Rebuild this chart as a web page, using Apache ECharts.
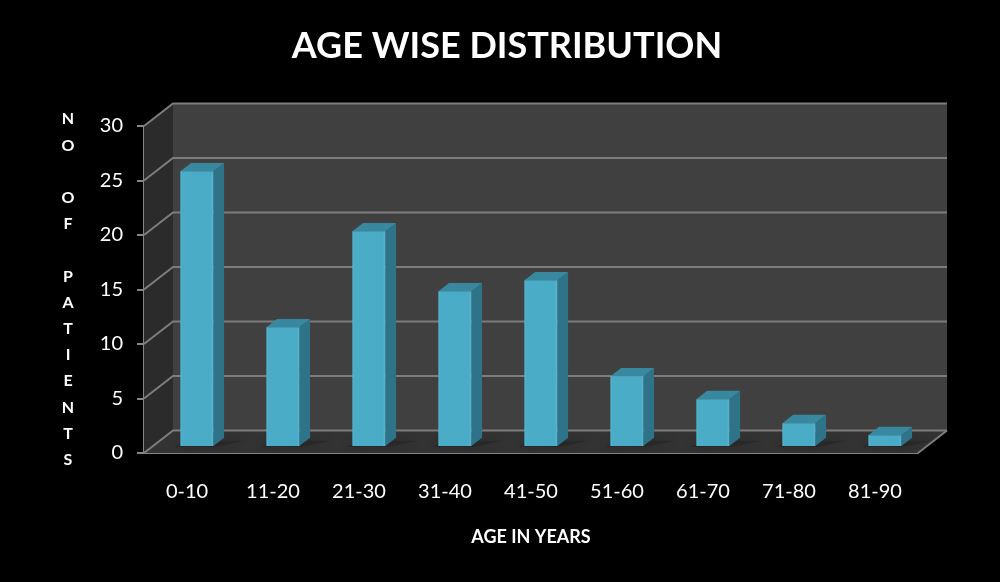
<!DOCTYPE html>
<html>
<head>
<meta charset="utf-8">
<style>html,body{margin:0;padding:0;background:#000}#chart{width:1000px;height:582px;filter:blur(0.45px)}</style>
<script src="https://cdn.jsdelivr.net/npm/echarts@6/dist/echarts.min.js"></script>
</head>
<body>
<div id="chart"></div>
<script>
const categories = ['0-10','11-20','21-30','31-40','41-50','51-60','61-70','71-80','81-90'];
const patients = [25.2, 10.9, 19.7, 14.2, 15.2, 6.4, 4.3, 2.1, 1.0];
const wallTicks = [0, 5, 10, 15, 20, 25, 30];

// Oblique projection of the chart's depth axis, in pixels
const DEPTH_X = 29, DEPTH_Y = -22.5;
const BAR_WIDTH = 33, BAR_NEAR = 0.34, BAR_FAR = 0.71;

const chart = echarts.init(document.getElementById('chart'), null, {renderer: 'canvas'});

function poly(points, fill, extra) {
  return {type: 'polygon', shape: {points}, style: Object.assign({fill}, extra || {}), silent: true};
}

function renderWalls(params, api) {
  const c = params.coordSys;
  const l = c.x, r = c.x + c.width, t = c.y, b = c.y + c.height;
  return {type: 'group', children: [
    poly([[l + DEPTH_X, t + DEPTH_Y], [r + DEPTH_X, t + DEPTH_Y], [r + DEPTH_X, b + DEPTH_Y], [l + DEPTH_X, b + DEPTH_Y]], '#404040'),
    poly([[l, t], [l + DEPTH_X, t + DEPTH_Y], [l + DEPTH_X, b + DEPTH_Y], [l, b]], '#2b2b2b'),
    poly([[l, b], [l + DEPTH_X, b + DEPTH_Y], [r + DEPTH_X, b + DEPTH_Y], [r, b]], '#333333')
  ]};
}

function renderGridLine(params, api) {
  const c = params.coordSys;
  const p = api.coord([0, api.value(0)]);
  const l = c.x, r = c.x + c.width, y = p[1];
  const stroke = {stroke: '#7d7d7d', lineWidth: 2, fill: 'none'};
  return {type: 'group', children: [
    {type: 'polyline', shape: {points: [[l, y], [l + DEPTH_X, y + DEPTH_Y], [r + DEPTH_X, y + DEPTH_Y]]}, style: stroke, silent: true}
  ]};
}

function renderFloorEdge(params, api) {
  const c = params.coordSys;
  const r = c.x + c.width, b = c.y + c.height;
  return {type: 'polyline', shape: {points: [[r, b], [r + DEPTH_X, b + DEPTH_Y]]},
    style: {stroke: '#7d7d7d', lineWidth: 2, fill: 'none'}, silent: true};
}

function barPoints(api) {
  const base = api.coord([api.value(0), 0]);
  const top = api.coord([api.value(0), api.value(1)]);
  const nx = DEPTH_X * BAR_NEAR, ny = DEPTH_Y * 0.31;
  const fx = DEPTH_X * (BAR_FAR - BAR_NEAR), fy = DEPTH_Y * (BAR_FAR - BAR_NEAR);
  const x0 = base[0] + nx - BAR_WIDTH / 2, x1 = x0 + BAR_WIDTH;
  const y0 = base[1] + ny, y1 = top[1] + ny;
  return {x0, x1, y0, y1, fx, fy};
}

function renderShadow(params, api) {
  const {x0, x1, y0, fx, fy} = barPoints(api);
  return poly([[x0 - 6, y0 + 1], [x1 + 2, y0 + 1], [x1 + fx + 20, y0 + fy + 3], [x0 + fx - 4, y0 + fy + 3]], 'rgba(30,30,30,0.4)',
    {shadowBlur: 10, shadowColor: 'rgba(20,20,20,0.7)'});
}

function renderBar(params, api) {
  const {x0, x1, y0, y1, fx, fy} = barPoints(api);
  const frontFill = new echarts.graphic.LinearGradient(0, 0, 1, 0, [
    {offset: 0, color: '#55b6d0'}, {offset: 0.06, color: '#4bacc8'},
    {offset: 0.92, color: '#4aabc7'}, {offset: 1, color: '#58b8d2'}
  ]);
  return {type: 'group', children: [
    poly([[x1, y1], [x1 + fx, y1 + fy], [x1 + fx, y0 + fy], [x1, y0]], '#2f7389'),
    poly([[x0, y1], [x0 + fx, y1 + fy], [x1 + fx, y1 + fy], [x1, y1]], '#38899f'),
    poly([[x0, y1], [x1, y1], [x1, y0], [x0, y0]], frontFill)
  ]};
}

chart.setOption({
  backgroundColor: '#000',
  animation: false,
  title: {
    text: 'AGE WISE DISTRIBUTION', left: 502, top: 23, textAlign: 'center',
    textStyle: {color: '#fff', fontFamily: 'Lato', fontWeight: 'bold', fontSize: 36}
  },
  grid: {left: 144, top: 126, width: 774, height: 327, containLabel: false},
  xAxis: {
    type: 'category', data: categories,
    axisLine: {lineStyle: {color: '#868686', width: 2}},
    axisTick: {length: 7, lineStyle: {color: '#868686', width: 2}},
    axisLabel: {color: '#fff', fontFamily: 'Lato', fontSize: 20, margin: 29},
    name: 'AGE IN YEARS', nameLocation: 'middle', nameGap: 75,
    nameTextStyle: {color: '#fff', fontFamily: 'Lato', fontWeight: 'bold', fontSize: 18}
  },
  yAxis: {
    type: 'value', min: 0, max: 30, interval: 5,
    axisLine: {show: true, lineStyle: {color: '#868686', width: 2}},
    axisTick: {show: true, length: 7, lineStyle: {color: '#868686', width: 2}},
    axisLabel: {color: '#fff', fontFamily: 'Lato', fontSize: 20, margin: 21, padding: [6, 0, 0, 0]},
    splitLine: {show: false},
    name: 'N\nO\n\nO\nF\n\nP\nA\nT\nI\nE\nN\nT\nS', nameLocation: 'middle', nameGap: 76, nameRotate: 0,
    nameTextStyle: {color: '#fff', fontFamily: 'Lato', fontWeight: 'bold', fontSize: 16, lineHeight: 26.2, align: 'center', verticalAlign: 'middle'}
  },
  series: [
    {type: 'custom', name: 'walls', coordinateSystem: 'cartesian2d', data: [[0, 0]], renderItem: renderWalls, silent: true, z: 1, clip: false},
    {type: 'custom', name: 'gridlines', coordinateSystem: 'cartesian2d', data: wallTicks.map(v => [v]), renderItem: renderGridLine, silent: true, z: 2, clip: false, encode: {y: 0}},
    {type: 'custom', name: 'floor edge', coordinateSystem: 'cartesian2d', data: [[0, 0]], renderItem: renderFloorEdge, silent: true, z: 2, clip: false},
    {type: 'custom', name: 'shadows', coordinateSystem: 'cartesian2d', data: patients.map((v, i) => [i, v]), renderItem: renderShadow, silent: true, z: 3, clip: false, encode: {x: 0, y: 1}},
    {type: 'custom', name: 'Patients', coordinateSystem: 'cartesian2d', data: patients.map((v, i) => [i, v]), renderItem: renderBar, z: 4, clip: false, encode: {x: 0, y: 1}}
  ]
});
</script>
</body>
</html>
